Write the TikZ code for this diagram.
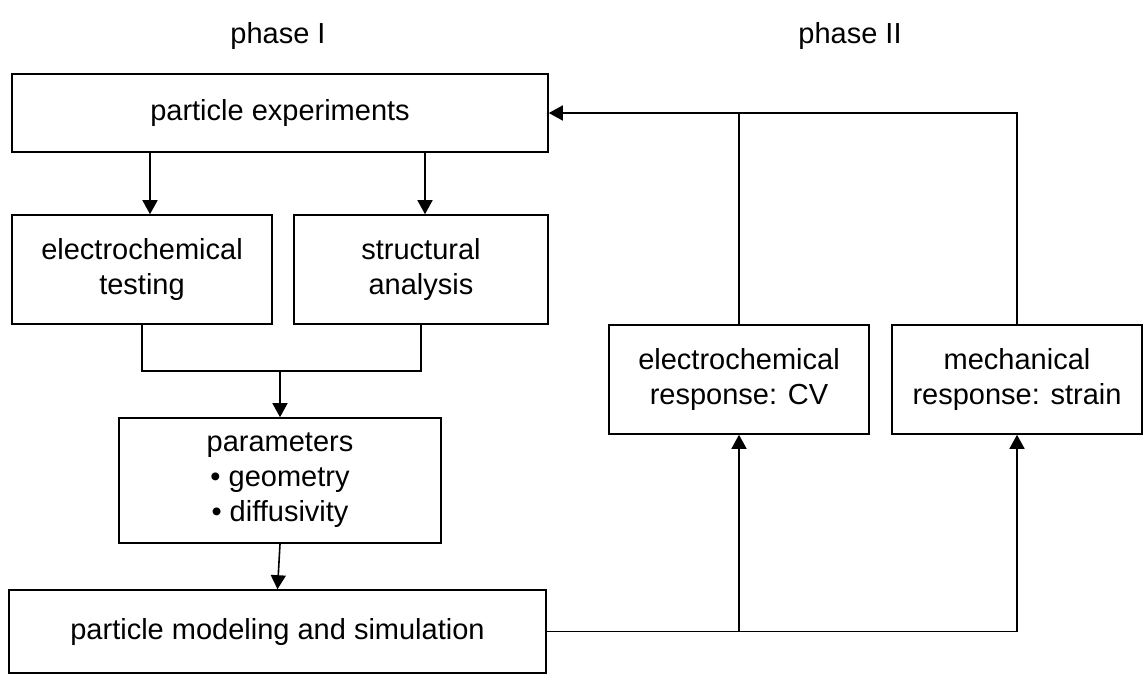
\documentclass[tikz,border=0pt]{standalone}
\usepackage{fontspec}
\setmainfont{Liberation Sans}
\usetikzlibrary{arrows.meta,positioning,calc}
\tikzset{block/.style={rectangle,draw,line width=1.6pt,inner sep=0pt,align=center,
font=\fontsize{29}{35}\selectfont},
phasetitle/.style={inner sep=0pt,font=\fontsize{29}{35}\selectfont},
wire/.style={line width=1.6pt},
>={Triangle[length=14pt,width=15pt]}}

\begin{document}
\begin{tikzpicture}[x=1pt,y=-1pt]
  \useasboundingbox (0,0) rectangle (1143,675);
  \node (phase1) [phasetitle] at (278,36) {phase I};
  \node (phase2) [phasetitle] at (850,36) {phase II};

  \node (exp) [block,minimum width=536pt,minimum height=78pt] at (280,113) {particle experiments};
  \node (test) [block,minimum width=260pt,minimum height=109pt] at (142,269.5) {electrochemical\\testing};
  \node (struct) [block,minimum width=254pt,minimum height=109pt] at (421,269.5) {structural\\analysis};
  \node (params) [block,minimum width=322pt,minimum height=125pt] at (280,480.5) {parameters\\\textbullet\ geometry\\\textbullet\ diffusivity};
  \node (model) [block,minimum width=537pt,minimum height=83pt] at (277.5,631.5) {particle modeling and simulation};
  \node (cv) [block,minimum width=260pt,minimum height=109pt] at (739,379.5) {electrochemical\\response: CV};
  \node (strain) [block,minimum width=250pt,minimum height=109pt] at (1017,379.5) {mechanical\\response: strain};
  \coordinate (merge) at (280,371);

  \draw [wire,->] ($(test.north |- exp.south)+(8,0)$) -- ($(test.north)+(8,0)$);
  \draw [wire,->] ($(struct.north |- exp.south)+(4,0)$) -- ($(struct.north)+(4,0)$);
  \draw [wire] (test.south) |- (merge) -| (struct.south);
  \draw [wire,->] (merge) -- (params.north);
  \draw [wire,->] (params.south) -- (model.north);

  \draw [wire,->] (model.east) -| (strain.south);
  \draw [wire,->] (model.east -| cv.south) -- (cv.south);
  \draw [wire,->] (strain.north) |- (exp.east);
  \draw [wire] (cv.north) -- (cv.north |- exp.east);
\end{tikzpicture}
\end{document}
